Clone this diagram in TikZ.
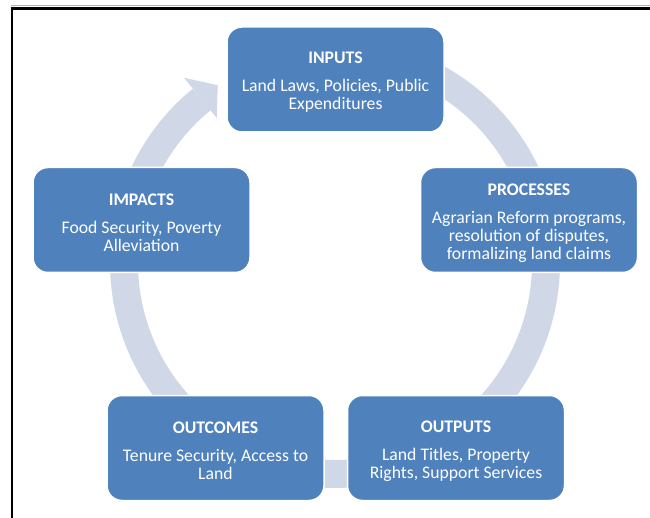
\documentclass[tikz,border=0pt]{standalone}
\usepackage{fontspec}
\setmainfont{Carlito}
\usetikzlibrary{calc}
\definecolor{boxblue}{RGB}{79,129,189}
\definecolor{ringblue}{RGB}{208,216,232}
\newcommand{\toppad}{\rule{0pt}{17.5pt}}
\begin{document}
\begin{tikzpicture}[x=1pt,y=-1pt,
  cyclebox/.style={rectangle, rounded corners=15pt, fill=boxblue, draw=white, line width=1.5pt,
    minimum width=217pt, minimum height=105pt, text=white, align=center,
    font=\fontsize{17.7}{18}\selectfont, inner sep=0pt},
  ringline/.style={draw=ringblue, line width=28pt},
  frameline/.style={draw=black, line width=3pt}
  ]
\useasboundingbox (0,0) rectangle (650,518);
\coordinate (c) at (335,263);
% ring arrow
\draw[ringline] plot[domain=-85:230.8, samples=240] ({335+211*cos(\x)},{263+211*sin(\x)});
\fill[ringblue] ($(c)+(230.8:239)$) -- ($(c)+(236.6:213)$) -- ($(c)+(230.8:187)$) -- cycle;
% frame
\draw[gray!60, line width=1pt] (11,5.5) -- (650,5.5);
\draw[frameline] (10.5,8.3) -- (650,8.3);
\draw[frameline, line width=2.5pt] (12.2,7) -- (12.2,518);
% boxes
\node[cyclebox] (inputs) at (335.5,79.5) {\toppad\textbf{INPUTS}\\[10pt]Land Laws, Policies, Public\\Expenditures};
\node[cyclebox] (processes) at (529,220) {\toppad\textbf{PROCESSES}\\[10pt]Agrarian Reform programs,\\resolution of disputes,\\formalizing land claims};
\node[cyclebox] (outputs) at (456,448) {\toppad\textbf{OUTPUTS}\\[10pt]Land Titles, Property\\Rights, Support Services};
\node[cyclebox] (outcomes) at (215.5,448) {\toppad\textbf{OUTCOMES}\\[10pt]Tenure Security, Access to\\Land};
\node[cyclebox] (impacts) at (141.5,220) {\toppad\textbf{IMPACTS}\\[10pt]Food Security, Poverty\\Alleviation};
\end{tikzpicture}
\end{document}
